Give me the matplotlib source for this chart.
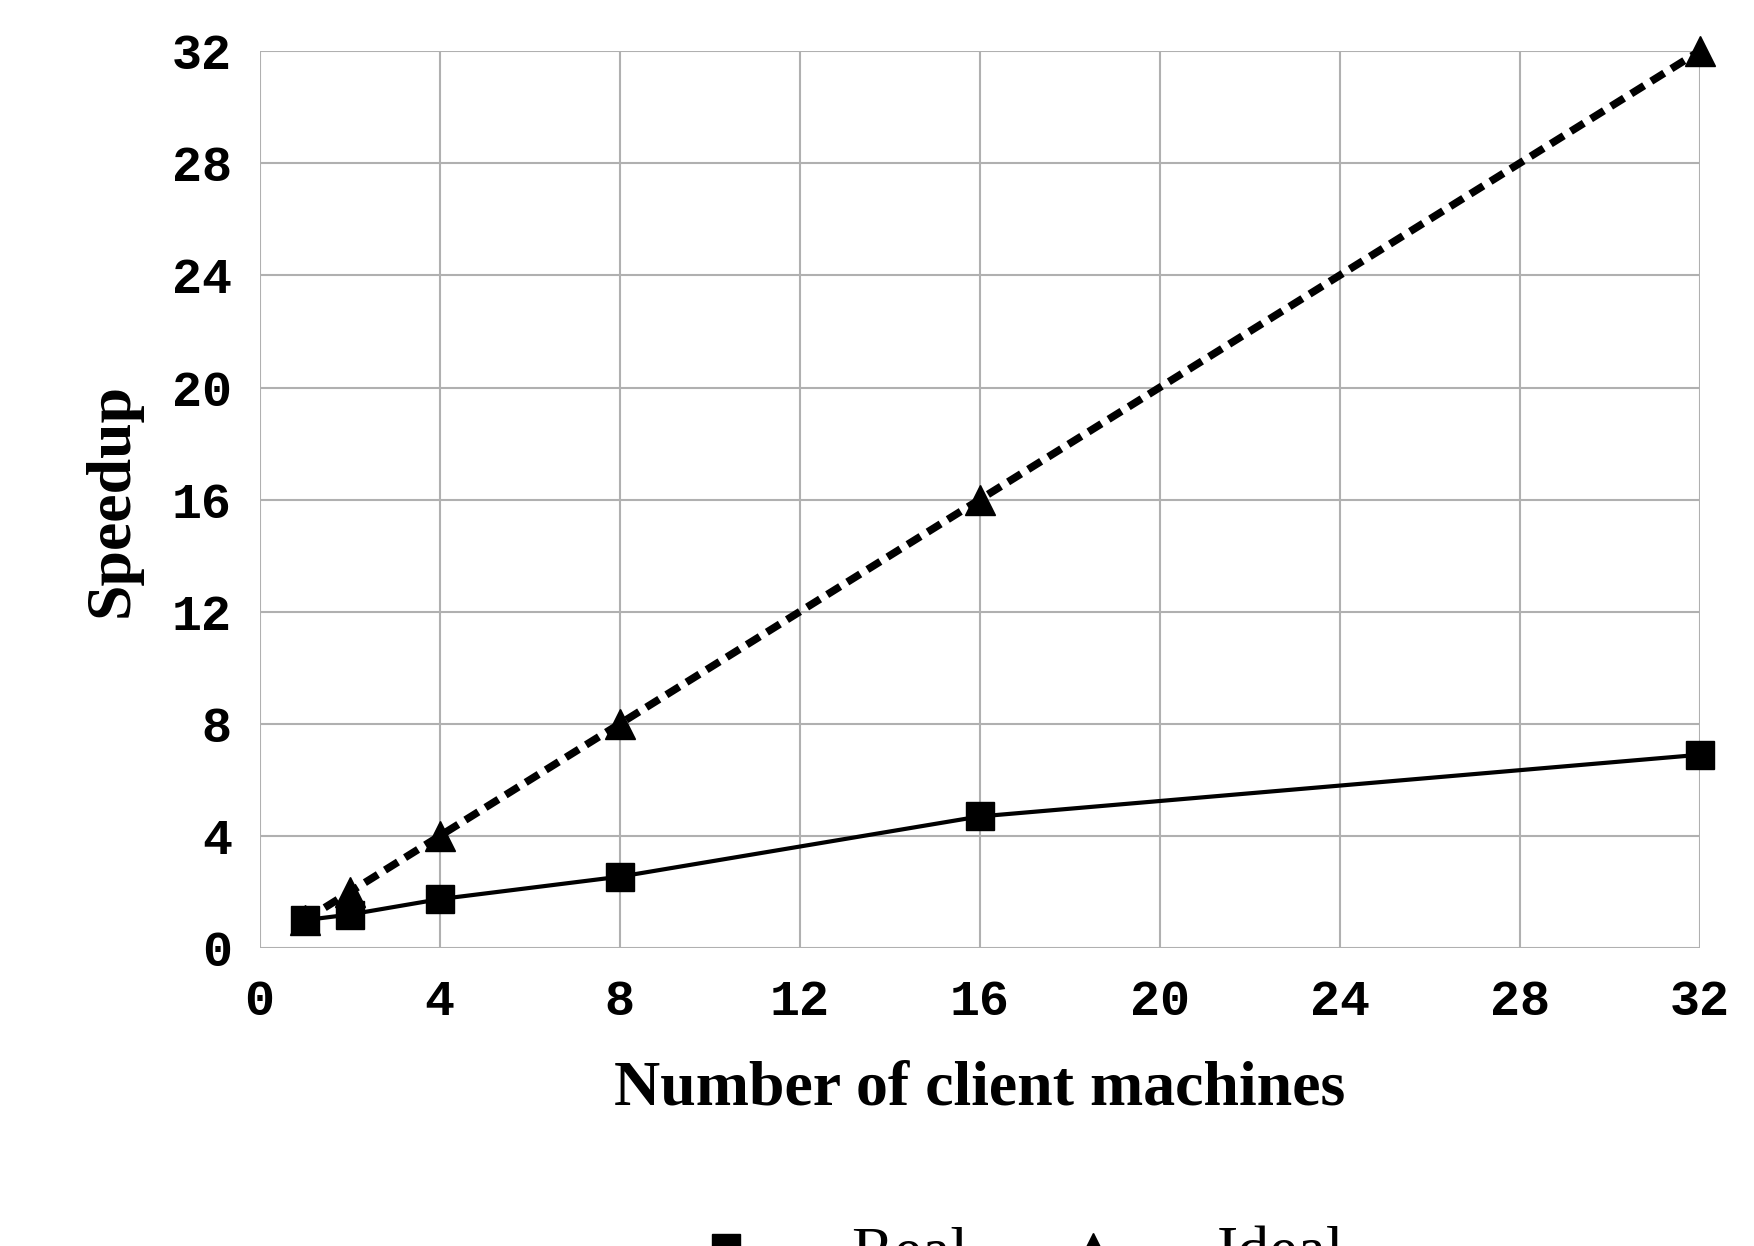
import matplotlib
matplotlib.use("Agg")
import matplotlib.pyplot as plt

machines = [1, 2, 4, 8, 16, 32]
real = [1.0, 1.2, 1.75, 2.55, 4.7, 6.9]
ideal = [1, 2, 4, 8, 16, 32]
ticks = [0, 4, 8, 12, 16, 20, 24, 28, 32]

fig = plt.figure(figsize=(17.54, 12.46), dpi=100)
ax = fig.add_axes([0.148, 0.239, 0.821, 0.72])
ax.plot(machines, real, color="black", lw=3, marker="s", ms=20, label="Real", clip_on=False, zorder=3)
ax.plot(machines, ideal, color="black", lw=5.5, ls=(0, (2, 1.1)), marker="^", ms=22, label="Ideal", clip_on=False, zorder=3)
ax.set_xlim(0, 32)
ax.set_ylim(0, 32)
ax.set_xticks(ticks)
ax.set_yticks(ticks)
ax.grid(True, color="#b0b0b0", lw=1.5)
for s in ax.spines.values():
    s.set_visible(False)
ax.tick_params(axis="x", length=0, pad=22)
ax.tick_params(axis="y", length=0, pad=20)
for lab in ax.get_xticklabels() + ax.get_yticklabels():
    lab.set_fontfamily("Liberation Mono")
    lab.set_fontweight("bold")
    lab.set_fontsize(36)
ax.set_xlabel("Number of client machines", fontfamily="Liberation Serif", fontweight="bold", fontsize=46, labelpad=26)
ax.set_ylabel("Speedup", fontfamily="Liberation Serif", fontweight="bold", fontsize=46, labelpad=22)
ax.legend(loc="upper center", bbox_to_anchor=(0.5, -0.245), ncol=2, frameon=False,
          prop={"family": "Liberation Serif", "size": 46}, handlelength=3.5, columnspacing=0.2, handletextpad=0.2)
fig.savefig("out.png", dpi=100)
